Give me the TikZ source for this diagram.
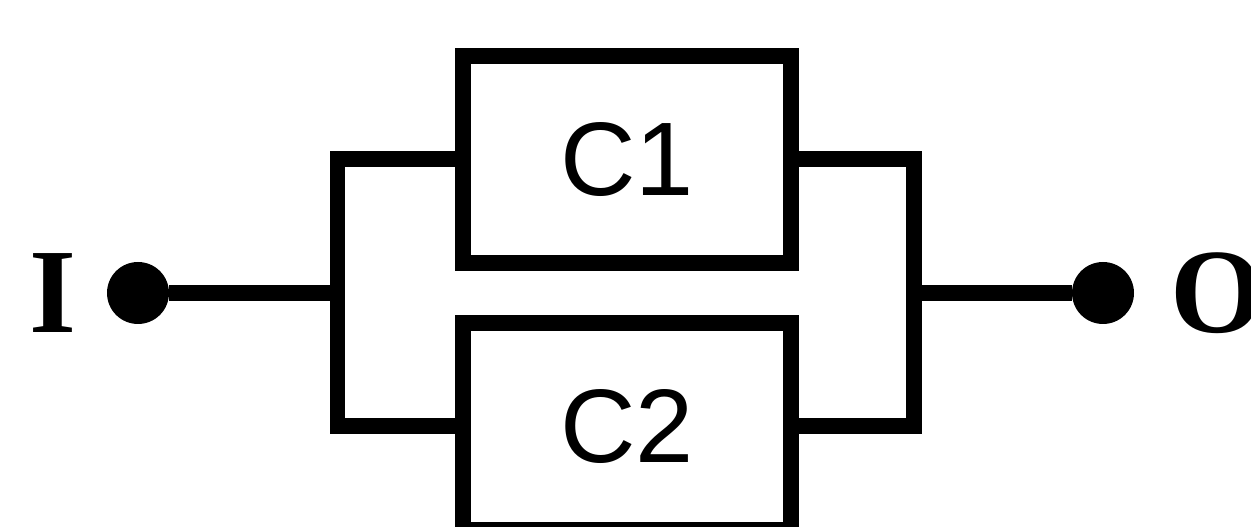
\documentclass[tikz,border=0pt]{standalone}
\usepackage{fontspec}
\setmainfont{Liberation Serif}
\setsansfont{Liberation Sans}
\usetikzlibrary{positioning}
\tikzset{
    wire/.style={line width=9.1pt,line join=miter},
    cbox/.style={draw,line width=9.1pt,minimum width=6.56cm,minimum height=4.14cm,inner sep=0pt,font=\sffamily\fontsize{59.5}{70}\selectfont},
    term/.style={circle,fill=black,minimum size=1.24cm,inner sep=0pt},
    tlabel/.style={inner sep=0pt,font=\bfseries\fontsize{68.6}{80}\selectfont},
}
\begin{document}
\begin{tikzpicture}
\useasboundingbox (0,0) rectangle (25.02,10.54);
\clip (0,0) rectangle (25.02,10.54);
% terminals
\node[term] (in) at (2.76,4.68) {};
\node[term] (out) at (22.06,4.68) {};
\node[tlabel] (lin) at (1.06,4.68) {I};
\node[tlabel,anchor=west] (lout) at (23.40,4.68) {O};
% the two blocks
\node[cbox] (c1) at (12.54,7.35) {C1};
\node[cbox] (c2) at (12.54,2.01) {C2};
% bus bars
\coordinate (lb) at (6.75,4.68);
\coordinate (rb) at (18.27,4.68);
\draw[wire] (in) -- (lb);
\draw[wire] (rb) -- (out);
\draw[wire] (c1.west) -- (c1.west -| lb) -- (c2.west -| lb) -- (c2.west);
\draw[wire] (c1.east) -- (c1.east -| rb) -- (c2.east -| rb) -- (c2.east);
\end{tikzpicture}
\end{document}
